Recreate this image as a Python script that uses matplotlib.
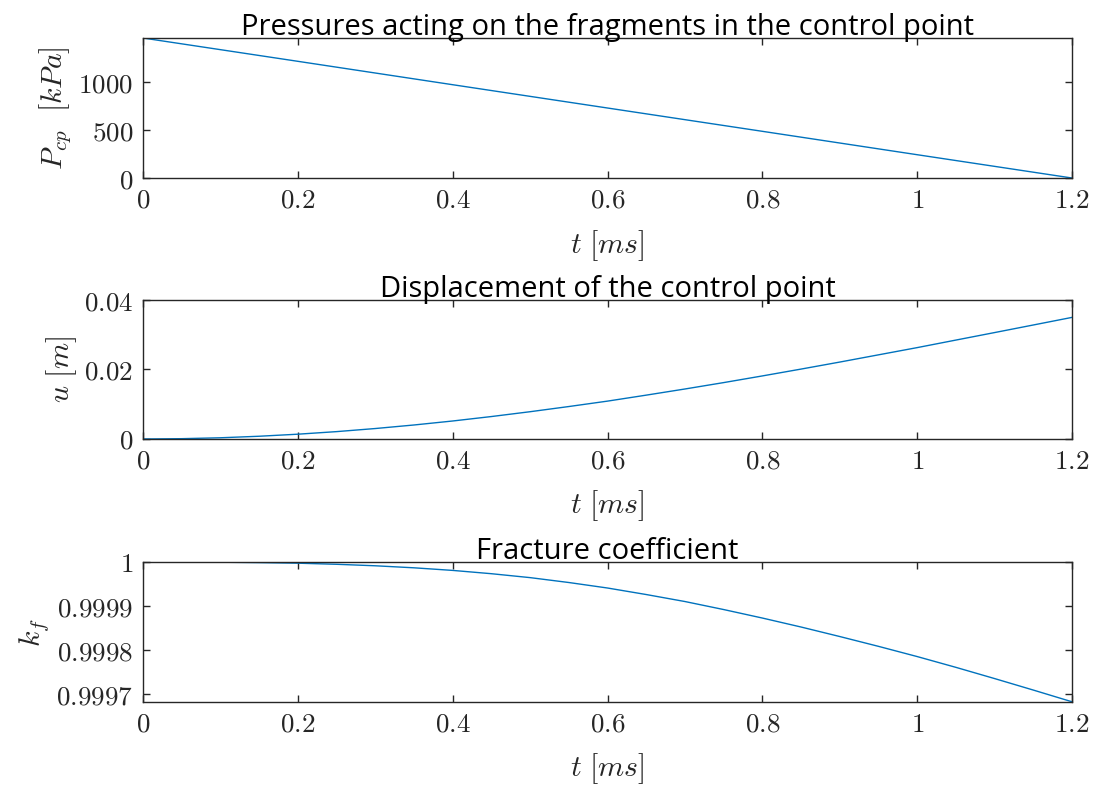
# Three stacked panels: pressure, displacement and fracture coefficient vs time
import matplotlib
matplotlib.use('Agg')
import matplotlib.pyplot as plt

# time samples [ms]
t_p = [0.0, 0.2, 0.4, 0.6, 0.8, 1.0, 1.2]
t = [0.0, 0.05, 0.1, 0.15, 0.2, 0.25, 0.3, 0.35, 0.4, 0.45, 0.5, 0.55, 0.6,
     0.65, 0.7, 0.75, 0.8, 0.85, 0.9, 0.95, 1.0, 1.05, 1.1, 1.15, 1.2]
t_k = [0.025] + t[1:]

# pressure in the control point [kPa]
p_cp = [1460, 1217, 973, 730, 487, 243, 0]

# displacement of the control point [m]
u = [0.0, 0.00009, 0.00035, 0.00079, 0.00138, 0.00212, 0.00301, 0.00403,
     0.00518, 0.00646, 0.00785, 0.00934, 0.0109, 0.01262, 0.01439, 0.01623,
     0.01815, 0.02012, 0.02214, 0.02422, 0.0263, 0.02847, 0.03063, 0.03281,
     0.035]

# fracture coefficient
k_f = [1.0, 0.9999999, 0.9999995, 0.9999986, 0.9999973, 0.9999948,
       0.9999914, 0.9999868, 0.9999809, 0.9999734, 0.9999645, 0.9999534,
       0.9999409, 0.9999261, 0.9999102, 0.9998920, 0.9998727, 0.9998523,
       0.9998307, 0.9998084, 0.9997852, 0.9997607, 0.9997352, 0.9997091,
       0.9996825]

p_ticks = [0, 500, 1000]
u_ticks = [0, 0.02, 0.04]
u_ticklabels = ['0', '0.02', '0.04']
k_ticks = [0.9997, 0.9998, 0.9999, 1.0]
k_ticklabels = ['0.9997', '0.9998', '0.9999', '1']
x_ticks = [0, 0.2, 0.4, 0.6, 0.8, 1.0, 1.2]
x_ticklabels = ['0', '0.2', '0.4', '0.6', '0.8', '1', '1.2']

plt.rcParams['mathtext.fontset'] = 'cm'
plt.rcParams['font.family'] = 'DejaVu Sans'

line_color = '#0072BD'
frame_color = '#262626'
tick_size = 19.5
label_size = 21.5
title_font = {'family': 'Open Sans', 'size': 21}

fig = plt.figure(figsize=(11.01, 7.87), dpi=100)

# axes boxes taken from the reference layout
ax1 = fig.add_axes([0.1299, 0.7738, 0.8438, 0.1779])
ax2 = fig.add_axes([0.1299, 0.4422, 0.8438, 0.1766])
ax3 = fig.add_axes([0.1299, 0.1080, 0.8438, 0.1779])


def style_axes(ax):
    # MATLAB-like box with inward ticks on all sides
    for side in ax.spines.values():
        side.set_color(frame_color)
        side.set_linewidth(1.0)
    ax.tick_params(direction='in', top=True, right=True, length=5,
                   width=1.0, color=frame_color, labelcolor=frame_color,
                   labelsize=tick_size, pad=7)
    ax.set_xlim(0, 1.2)
    ax.set_xticks(x_ticks)
    ax.set_xticklabels(['$%s$' % s for s in x_ticklabels])
    ax.set_xlabel(r'$t\ [ms]$', fontsize=label_size, color=frame_color,
                  labelpad=10)


# pressure panel
ax1.plot(t_p, p_cp, color=line_color, linewidth=1.0)
style_axes(ax1)
ax1.set_ylim(0, 1460)
ax1.set_yticks(p_ticks)
ax1.set_yticklabels(['$%d$' % v for v in p_ticks])
ax1.set_ylabel(r'$P_{cp}\ \ [kPa]$', fontsize=label_size, color=frame_color)
ax1.set_title('Pressures acting on the fragments in the control point',
              fontdict=title_font, pad=2)

# displacement panel
ax2.plot(t, u, color=line_color, linewidth=1.0)
style_axes(ax2)
ax2.set_ylim(0, 0.04)
ax2.set_yticks(u_ticks)
ax2.set_yticklabels(['$%s$' % s for s in u_ticklabels])
ax2.set_ylabel(r'$u\ [m]$', fontsize=label_size, color=frame_color)
ax2.set_title('Displacement of the control point', fontdict=title_font, pad=2)

# fracture coefficient panel
ax3.plot(t_k, k_f, color=line_color, linewidth=1.0)
style_axes(ax3)
ax3.set_ylim(0.999682, 1.0)
ax3.set_yticks(k_ticks)
ax3.set_yticklabels(['$%s$' % s for s in k_ticklabels])
ax3.set_ylabel(r'$k_f$', fontsize=label_size, color=frame_color)
ax3.set_title('Fracture coefficient', fontdict=title_font, pad=2)

fig.savefig('out.png', dpi=100)
